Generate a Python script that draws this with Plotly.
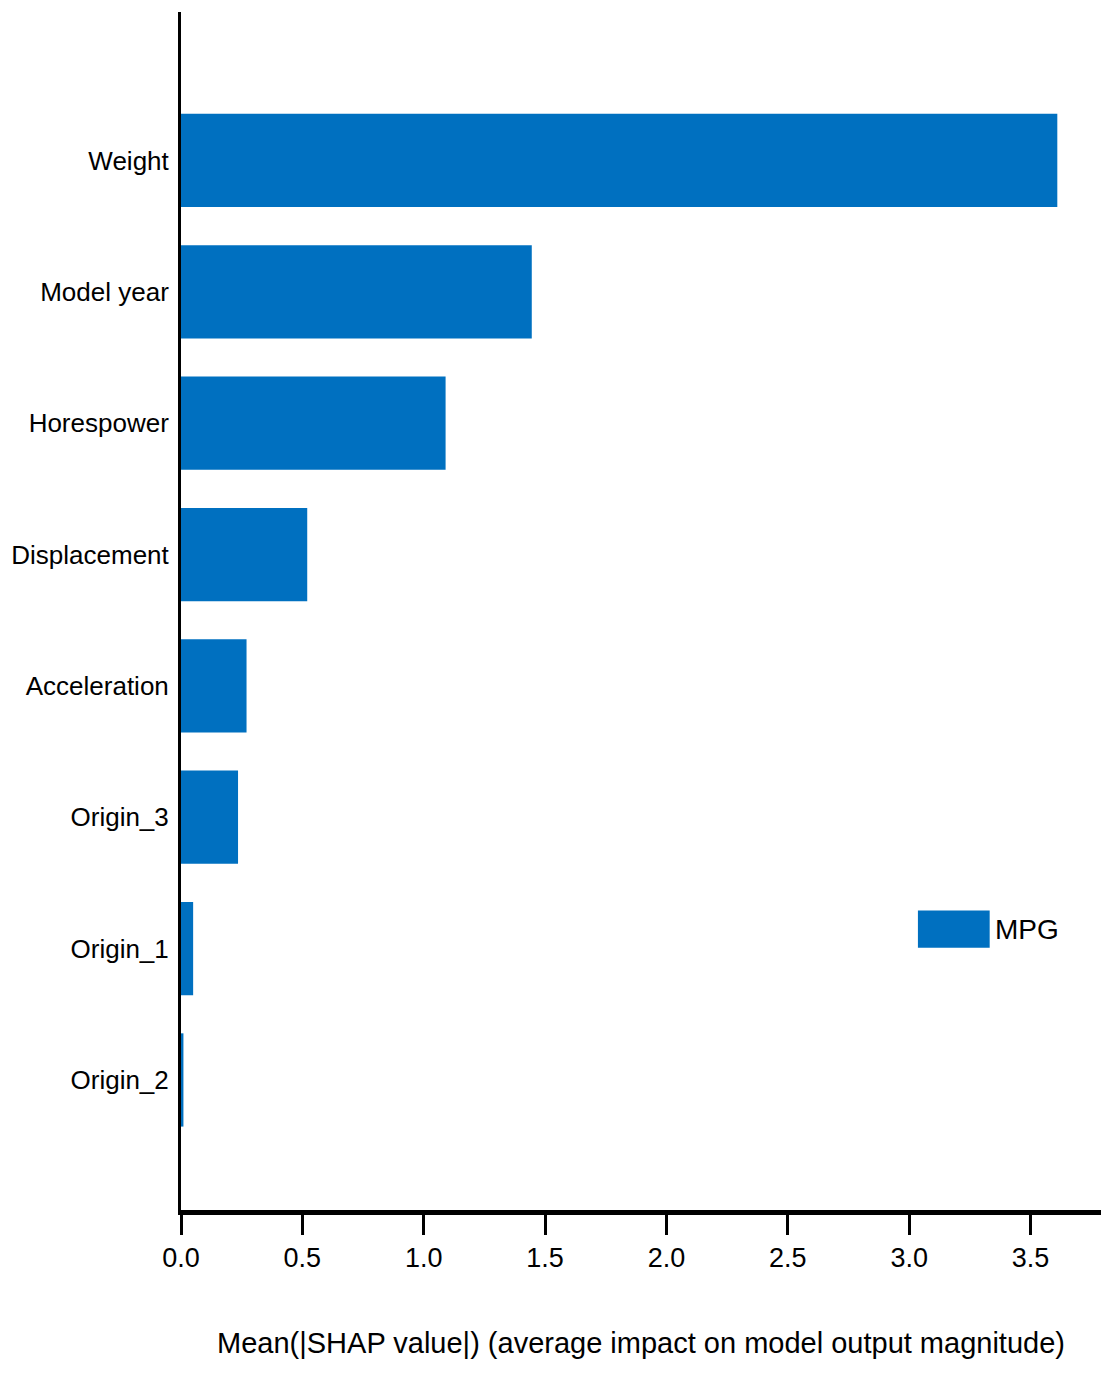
import plotly.graph_objects as go

features = ["Origin_2", "Origin_1", "Origin_3", "Acceleration", "Displacement",
            "Horespower", "Model year", "Weight"]
mean_abs_shap = [0.01, 0.05, 0.235, 0.27, 0.52, 1.09, 1.445, 3.61]
series_name = "MPG"
tick_vals = [0.0, 0.5, 1.0, 1.5, 2.0, 2.5, 3.0, 3.5]
tick_text = ["0.0", "0.5", "1.0", "1.5", "2.0", "2.5", "3.0", "3.5"]

FONT = "Liberation Sans, Arial, sans-serif"
BLUE = "#0070C0"

fig = go.Figure()
fig.add_trace(go.Bar(
    x=mean_abs_shap, y=list(range(len(features))), orientation="h",
    name=series_name, marker=dict(color=BLUE, line=dict(width=0)),
    width=0.71, showlegend=False,
))

# legend (patch + label) drawn as in the reference: wide patch
fig.add_shape(type="rect", xref="paper", yref="paper",
              x0=0.801, x1=0.879, y0=0.219, y1=0.250,
              fillcolor=BLUE, line=dict(width=0))
fig.add_annotation(text=series_name, xref="paper", yref="paper",
                   x=0.883, y=0.234, xanchor="left", yanchor="middle",
                   showarrow=False, font=dict(size=28, color="black"))

fig.update_layout(
    width=1101, height=1384,
    margin=dict(l=181, r=0, t=12, b=174),
    paper_bgcolor="white", plot_bgcolor="white",
    font=dict(family=FONT, size=26, color="black"),
    showlegend=False,
    xaxis=dict(range=[0, 3.79], tickvals=tick_vals, ticktext=tick_text,
               showgrid=False, zeroline=False, showline=True, automargin=False,
               linecolor="black", linewidth=5, ticks="outside", ticklen=20,
               tickwidth=3, tickcolor="black",
               tickfont=dict(size=27),
               title=dict(text="Mean(|SHAP value|) (average impact on model output magnitude)",
                          font=dict(size=29), standoff=62)),
    yaxis=dict(range=[-0.99, 8.13], tickvals=list(range(len(features))),
               ticktext=features, showgrid=False, zeroline=False, automargin=False,
               showline=True, linecolor="black", linewidth=3, ticks="",
               ticklabelstandoff=4, tickfont=dict(size=26)),
)

fig.write_html("out.html", config={"displayModeBar": False},
               post_script="document.body.style.margin='0';")
